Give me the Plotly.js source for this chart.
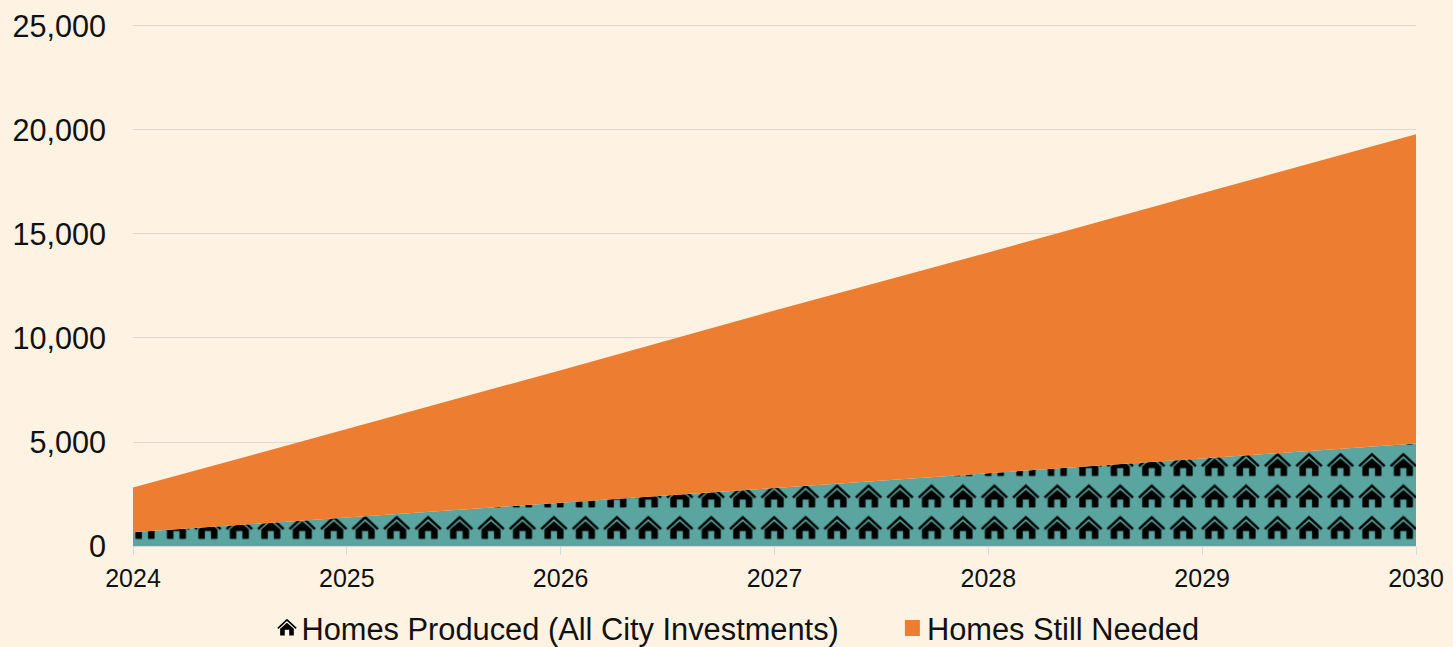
<!DOCTYPE html>
<html><head><meta charset="utf-8">
<script src="https://cdn.plot.ly/plotly-3.0.1.min.js"></script>
<style>html,body{margin:0;padding:0;background:#FEF3E2;overflow:hidden}</style>
</head><body><div id="chart" style="width:1453px;height:647px"></div>
<script>
const years = [2024, 2025, 2026, 2027, 2028, 2029, 2030];
const homesProduced = [660, 1370, 2080, 2790, 3500, 4210, 4930];
const homesStillNeeded = [2147, 4254, 6375, 8534, 10612, 12743, 14870];
const seriesNames = ['Homes Produced (All City Investments)', 'Homes Still Needed'];
const tealColor = '#5BA5A0', orangeColor = '#ED7D31', bgColor = '#FEF3E2';
const tile = 31.46;

const housePath = 'M2.2,14.2 L15.7,1.6 L29.2,14.2 L27.6,16 L15.7,4.9 L3.8,16 Z ' +
  'M15.7,7.4 L25.2,15.6 L25.2,24.2 Q25.2,24.9 24.4,24.9 L18.8,24.9 L18.8,17 L12.6,17 L12.6,24.9 L7,24.9 Q6.2,24.9 6.2,24.2 L6.2,15.6 Z';

const traces = [
  {x: years, y: homesProduced, name: seriesNames[0], stackgroup: 'a', mode: 'none',
   fillcolor: tealColor, fillpattern: {shape: '.', bgcolor: tealColor, fgcolor: '#000', size: tile, solidity: 0.5}, hoverinfo: 'x+y+name'},
  {x: years, y: homesStillNeeded, name: seriesNames[1], stackgroup: 'a', mode: 'none',
   fillcolor: orangeColor, hoverinfo: 'x+y+name'}
];
const fontFam = '"Liberation Sans", Arial, sans-serif';
const layout = {
  width: 1453, height: 647,
  margin: {l: 133, r: 37, t: 15.5, b: 100.5},
  paper_bgcolor: bgColor, plot_bgcolor: bgColor,
  showlegend: true,
  legend: {orientation: 'h', xref: 'container', yref: 'container', x: 0.1885, y: 0.0, xanchor: 'left', yanchor: 'bottom',
    entrywidth: 470, entrywidthmode: 'pixels', traceorder: 'normal', font: {family: fontFam, size: 30.8, color: '#111'},
    bgcolor: 'rgba(0,0,0,0)'},
  xaxis: {range: [2024, 2030], dtick: 1, tick0: 2024, tickformat: 'd', showgrid: false, zeroline: false,
    showline: true, linecolor: '#D9D9D9', linewidth: 1, ticks: 'outside', ticklen: 8, tickcolor: '#D9D9D9', tickwidth: 1,
    ticklabelstandoff: 2, tickfont: {family: fontFam, size: 25, color: '#111'}},
  yaxis: {range: [0, 25480], tick0: 0, dtick: 5000, tickformat: ',d', gridcolor: '#DDDAD5', gridwidth: 1, zeroline: false,
    showline: false, ticks: '', ticklabelstandoff: 26, tickfont: {family: fontFam, size: 30.6, color: '#111'}}
};

function patch() {
  const gd = document.getElementById('chart');
  const svgNS = 'http://www.w3.org/2000/svg';
  gd.querySelectorAll('pattern').forEach(p => {
    while (p.firstChild) p.removeChild(p.firstChild);
    const r = document.createElementNS(svgNS, 'rect');
    r.setAttribute('width', tile); r.setAttribute('height', tile); r.setAttribute('fill', tealColor);
    p.appendChild(r);
    const h = document.createElementNS(svgNS, 'path');
    h.setAttribute('d', housePath); h.setAttribute('fill', '#000'); h.setAttribute('stroke', '#1a3331'); h.setAttribute('stroke-width', '0.4');
    p.appendChild(h);
    p.setAttribute('width', tile); p.setAttribute('height', tile);
    p.setAttribute('patternUnits', 'userSpaceOnUse');
    p.setAttribute('patternTransform', 'translate(-3.7,-5.4)');
  });
  const items = gd.querySelectorAll('.legend .traces');
  items.forEach((it, i) => {
    const fp = it.querySelector('.legendfill path');
    if (fp) {
      if (i === 0) {
        fp.setAttribute('d', housePath);
        fp.setAttribute('transform', 'translate(1.8,-10.5) scale(0.72)');
        fp.style.fill = '#000';
      } else {
        fp.setAttribute('d', 'M5,-8H20V8H5Z');
        fp.style.fill = orangeColor;
      }
      fp.style.stroke = 'none';
    }
    const t = it.querySelector('text.legendtext');
    if (t) t.setAttribute('x', i === 0 ? 27.5 : 27);
    if (i === 1) it.setAttribute('transform', 'translate(626,' + (it.getAttribute('transform').match(/[, ]\s*([-\d.]+)\)/) || [0, 0])[1] + ')');
  });
  const leg = gd.querySelector('.legend');
  if (leg) {
    const cur = leg.getAttribute('transform') || '';
    if (leg.dataset.last !== cur) {
      const m = cur.match(/translate\(\s*([-\d.]+)[, ]\s*([-\d.]+)\)/);
      if (m) {
        const next = 'translate(' + m[1] + ',' + (parseFloat(m[2]) + 8.5) + ')';
        leg.setAttribute('transform', next);
        leg.dataset.last = next;
      }
    }
  }
}
const gd = document.getElementById('chart');
Plotly.newPlot(gd, traces, layout, {displayModeBar: false}).then(() => {
  patch();
  gd.on('plotly_afterplot', patch);
});
</script></body></html>
